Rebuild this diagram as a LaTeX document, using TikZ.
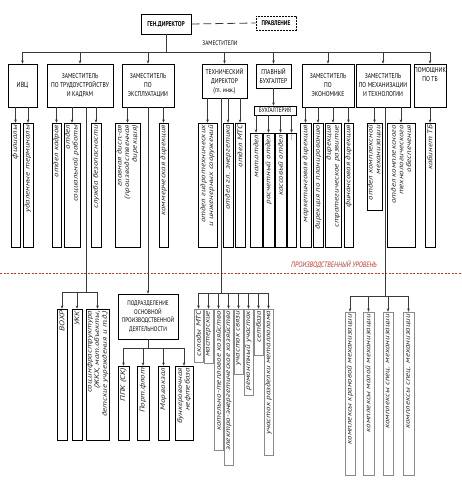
\documentclass[tikz,border=0pt]{standalone}
\usepackage{fontspec}
\setmainfont{PT Sans}
\newfontfamily\cndfont{PT Sans}[FakeStretch=0.8]
\newfontfamily\vtfont{PT Sans}[FakeStretch=1.3]
\usetikzlibrary{arrows.meta}
\definecolor{ln}{HTML}{3A3A3A}
\definecolor{redln}{HTML}{C0392B}
\definecolor{gry}{HTML}{8A8A8A}
\definecolor{txt}{HTML}{262626}
\tikzset{
 hbox/.style={draw=black, line width=0.6pt, inner sep=0pt, align=center, font=\cndfont\fontsize{7}{9}\selectfont},
 vframe/.style={draw=black, line width=0.55pt, inner sep=0pt},
 gframe/.style={draw=gry},
 vtext/.style={rotate=90, anchor=east, align=right, inner xsep=2pt, inner ysep=0pt, text=txt, font=\vtfont\itshape\fontsize{6.9}{7.6}\selectfont},
 conn/.style={draw=ln, line width=0.6pt},
 arr/.style={conn, -{Stealth[length=3.2pt,width=2.6pt]}},
}
\newcommand\tbx[7][]{%
 \pgfmathsetmacro\bxW{#4-#3}\pgfmathsetmacro\bxH{#6-#5}%
 \pgfmathsetmacro\bxX{(#3+#4)/2}\pgfmathsetmacro\bxY{(#5+#6)/2}%
 \node[hbox,minimum width=\bxW pt,minimum height=\bxH pt,#1] (#2) at (\bxX,\bxY) {#7};}
\newcommand\vbx[7][]{%
 \pgfmathsetmacro\bxW{#4-#3}\pgfmathsetmacro\bxH{#6-#5}%
 \pgfmathsetmacro\bxX{(#3+#4)/2}\pgfmathsetmacro\bxY{(#5+#6)/2}%
 \node[vframe,minimum width=\bxW pt,minimum height=\bxH pt,#1] (#2) at (\bxX,\bxY) {};
 \node[vtext] (#2t) at (#2.north) {#7};}
\begin{document}
\begin{tikzpicture}[x=1pt,y=-1pt]
\fill[white] (0,0) rectangle (461,494);
\useasboundingbox (0,0) rectangle (461,494);
% top
\tbx[font=\cndfont\bfseries\fontsize{7}{8}\selectfont, line width=0.8pt]{gd}{141}{191}{14}{34}{ГЕН.ДИРЕКТОР}
\tbx[font=\cndfont\bfseries\fontsize{6.8}{8}\selectfont, dash pattern=on 2pt off 1pt, line width=0.8pt]{pr}{256}{296}{16}{30}{ПРАВЛЕНИЕ}
\draw[conn, line width=0.8pt, dash pattern=on 8pt off 4pt] (gd.east) -- (pr.west);
\node[font=\cndfont\fontsize{6.6}{7}\selectfont, inner sep=0pt] (zam) at (220,43) {ЗАМЕСТИТЕЛИ};
% row 1
\tbx[font=\cndfont\fontsize{7.4}{9}\selectfont]{ivc}{8}{37}{64}{107}{ИВЦ}
\tbx{zk}{47}{113}{64}{107}{ЗАМЕСТИТЕЛЬ\\ПО ТРУДОУСТРОЙСТВУ\\И КАДРАМ}
\tbx{ze}{122}{174}{64}{107}{ЗАМЕСТИТЕЛЬ\\ПО\\ЭКСПЛУАТАЦИИ}
\tbx{td}{202}{247}{64}{98}{ТЕХНИЧЕСКИЙ\\ДИРЕКТОР\\(гл. инж.)}
\tbx{gb}{256}{291}{64}{88}{ГЛАВНЫЙ\\БУХГАЛТЕР}
\tbx[font=\cndfont\fontsize{6.5}{7}\selectfont]{bu}{254}{296}{106}{115}{БУХГАЛТЕРИЯ}
\tbx{zec}{302}{354}{64}{107}{ЗАМЕСТИТЕЛЬ\\ПО\\ЭКОНОМИКЕ}
\tbx{zm}{356}{410}{64}{107}{ЗАМЕСТИТЕЛЬ\\ПО МЕХАНИЗАЦИИ\\И ТЕХНОЛОГИИ}
\tbx{ptb}{414}{446}{64}{107}{}
\node[hbox, draw=none, anchor=north] (ptbt) at ([yshift=-4pt]ptb.north) {ПОМОЩНИК\\ПО ТБ};
\coordinate (bus) at (0,52);
\draw[conn] (gd.south) -- (gd.south |- bus);
\draw[conn] (ivc.north |- bus) -- (ptb.north |- bus);
\foreach \n in {ivc,zk,ze,td,gb,zec,zm,ptb} \draw[arr] (\n.north |- bus) -- (\n.north);
\draw[arr] (gb.south) -- (gb.south |- bu.north);
% row 2
\vbx{f1}{11}{20}{123}{247}{филиалы}
\vbx{f2}{23}{33}{123}{247}{удаленные терминалы}
\vbx{k1}{52}{61}{123}{247}{отдел кадров}
\vbx{k2}{64}{80}{123}{247}{отдел\\социальной работы}
\vbx{k3}{91}{101}{123}{247}{служба безопасности}
\vbx{e1}{115}{140}{123}{247}{главная дисп.-ая\\(производственная\\дирекция)}
\vbx{e2}{159}{168}{123}{247}{коммерческая дирекция}
\vbx{t1}{198}{217}{123}{247}{отдел гидротехнических\\и инженерных сооружений}
\vbx{t2}{223}{233}{123}{247}{отдел гл. энергетика}
\vbx{t3}{235}{245}{123}{247}{отдел МТС}
\vbx{b1}{250}{262}{133}{247}{мат.отдел}
\vbx{b2}{263}{274}{133}{247}{расчетный отдел}
\vbx{b3}{275}{286}{133}{247}{кассовый отдел}
\vbx{b4}{287}{296}{133}{247}{...}
\vbx{c1}{300}{311}{123}{247}{маркетинговая дирекция}
\vbx{c2}{313}{323}{123}{247}{дирекция по планированию}
\vbx{c3}{325}{341}{123}{247}{дирекция\\стратегическое развитие}
\vbx{c4}{344}{353}{123}{247}{финансовая дирекция}
\vbx{m1}{367}{382}{123}{210}{отдел комплексной\\механизации}
\vbx{m2}{387}{415}{123}{247}{отдел комплексного\\технологического\\обеспечения}
\vbx{p1}{425}{435}{123}{247}{кабинет ТБ}
\foreach \p/\c in {ivc/f1,ivc/f2,zk/k1,zk/k2,zk/k3,ze/e1,ze/e2,td/t1,td/t2,td/t3,bu/b1,bu/b2,bu/b3,bu/b4,zec/c1,zec/c2,zec/c3,zec/c4,zm/m1,zm/m2,ptb/p1}
  \draw[arr] (\p.south -| \c.north) -- (\c.north);
% production level
\draw[redln, line width=0.5pt, dash pattern=on 2pt off 1.5pt] (0,273) -- (461,273);
\node[font=\cndfont\itshape\fontsize{7.8}{8}\selectfont, text=redln, inner sep=0pt] (lvl) at (334,265) {ПРОИЗВОДСТВЕННЫЙ УРОВЕНЬ};
% lower: from zk
\vbx{s1}{57}{67}{309}{440}{ВОХР}
\vbx{s2}{72}{82}{309}{440}{УКК}
\vbx{s3}{86}{109}{309}{440}{соц.инфраструктура\\(ЖКХ, мат.объекты,\\детские учреждения и т.д.)}
\coordinate (kb) at (86,292);
\draw[conn] (zk.south -| kb) -- (kb);
\draw[conn] (s1.north |- kb) -- (s3.north |- kb);
\foreach \c in {s1,s2,s3} \draw[arr] (\c.north |- kb) -- (\c.north);
% from ze
\tbx[font=\cndfont\fontsize{6.6}{8.5}\selectfont]{pd}{118}{178}{294}{339}{ПОДРАЗДЕЛЕНИЕ\\ОСНОВНОЙ\\ПРОИЗВОДСТВЕННОЙ\\ДЕЯТЕЛЬНОСТИ}
\draw[arr] (ze.south) -- (pd.north);
\vbx{q1}{118}{129}{366}{440}{ППК (СК)}
\vbx{q2}{137}{149}{366}{440}{Порт.флот}
\vbx{q3}{158}{169}{366}{440}{Мор.вокзал}
\vbx{q4}{175}{193}{366}{440}{бункеровочная\\нефтебаза}
\coordinate (pb) at (148,348);
\draw[conn] (pd.south) -- (pd.south |- pb);
\draw[conn] (q1.north |- pb) -- (q4.north |- pb);
\foreach \c in {q1,q2,q3,q4} \draw[arr] (\c.north |- pb) -- (\c.north);
% from td
\vbx[gframe]{r1}{194}{203}{309}{362}{склады МТС}
\vbx[gframe]{r2}{204}{213}{309}{363}{мастерские}
\vbx[gframe]{r3}{214}{223}{309}{450}{котельно-тепловое хозяйство}
\vbx[gframe]{r4}{224}{233}{309}{465}{электро-энергетическое хозяйство}
\vbx[gframe]{r5}{234}{243}{309}{374}{участок связи}
\vbx[gframe]{r6}{244}{253}{309}{395}{ремонтный участок}
\vbx[gframe]{r7}{254}{263}{309}{355}{сетбаза}
\vbx[gframe]{r8}{264}{273}{309}{455}{участок разделки металлолома}
\coordinate (tb) at (221,293);
\draw[conn] (td.south -| tb) -- (tb);
\draw[conn] (r1.north |- tb) -- (r8.north |- tb);
\foreach \c in {r1,r2,r3,r4,r5,r6,r7,r8} \draw[arr] (\c.north |- tb) -- (\c.north);
% from zm
\vbx[gframe]{u1}{345}{355}{312}{475}{комплексы крановой механизации}
\vbx[gframe]{u2}{363}{374}{312}{475}{комплексы малой механизации}
\vbx[gframe]{u3}{383}{393}{312}{475}{комплексы спец. механизации}
\vbx[gframe]{u4}{403}{414}{312}{475}{комплексы спец. механизации}
\coordinate (mb) at (385,296);
\draw[conn] (zm.south -| mb) -- (mb);
\draw[conn] (u1.north |- mb) -- (u4.north |- mb);
\foreach \c in {u1,u2,u3,u4} \draw[arr] (\c.north |- mb) -- (\c.north);
\end{tikzpicture}
\end{document}
